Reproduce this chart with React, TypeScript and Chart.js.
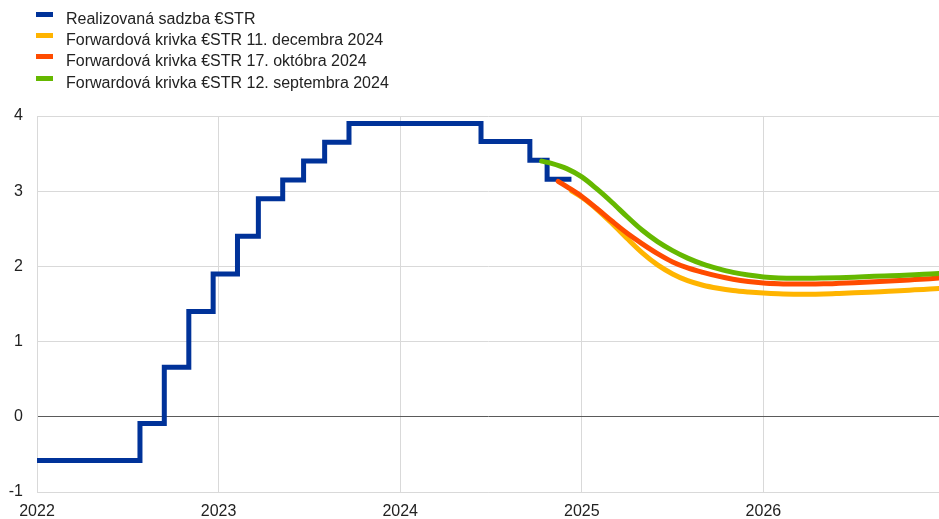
import React, { useEffect, useRef } from "react";
import { Chart, registerables } from "chart.js";

Chart.register(...registerables);

// Realized €STR: step change dates (decimal years) and levels
const realizedDates = [
  2022.0, 2022.567, 2022.701, 2022.836, 2022.97, 2023.104, 2023.219, 2023.353,
  2023.468, 2023.584, 2023.718, 2024.445, 2024.714, 2024.809, 2024.943,
];
const realizedValues = [
  -0.58, -0.09, 0.66, 1.4, 1.9, 2.4, 2.9, 3.15, 3.4, 3.65, 3.9, 3.66, 3.41, 3.16, 3.16,
];

// Forward curve 11 Dec 2024
const decDates = [
  2024.945, 2025.0, 2025.083, 2025.167, 2025.25, 2025.333, 2025.417, 2025.5, 2025.583,
  2025.667, 2025.75, 2025.833, 2025.917, 2026.0, 2026.083, 2026.167, 2026.25, 2026.333,
  2026.417, 2026.5, 2026.583, 2026.667, 2026.75, 2026.833, 2026.917, 2027.0,
];
const decValues = [
  3.0, 2.92, 2.76, 2.57, 2.37, 2.18, 2.02, 1.9, 1.81, 1.75, 1.71, 1.68, 1.66, 1.645,
  1.635, 1.63, 1.63, 1.633, 1.64, 1.648, 1.657, 1.667, 1.677, 1.688, 1.699, 1.71,
];

// Forward curve 17 Oct 2024
const octDates = [
  2024.87, 2024.917, 2025.0, 2025.083, 2025.167, 2025.25, 2025.333, 2025.417, 2025.5,
  2025.583, 2025.667, 2025.75, 2025.833, 2025.917, 2026.0, 2026.083, 2026.167, 2026.25,
  2026.333, 2026.417, 2026.5, 2026.583, 2026.667, 2026.75, 2026.833, 2026.917, 2027.0,
];
const octValues = [
  3.13, 3.06, 2.93, 2.77, 2.6, 2.44, 2.3, 2.17, 2.06, 1.98, 1.92, 1.87, 1.83, 1.8,
  1.78, 1.77, 1.765, 1.765, 1.768, 1.775, 1.783, 1.792, 1.802, 1.813, 1.825, 1.837, 1.85,
];

// Forward curve 12 Sep 2024
const sepDates = [
  2024.779, 2024.833, 2024.917, 2025.0, 2025.083, 2025.167, 2025.25, 2025.333, 2025.417,
  2025.5, 2025.583, 2025.667, 2025.75, 2025.833, 2025.917, 2026.0, 2026.083, 2026.167,
  2026.25, 2026.333, 2026.417, 2026.5, 2026.583, 2026.667, 2026.75, 2026.833, 2026.917,
  2027.0,
];
const sepValues = [
  3.4, 3.37, 3.3, 3.19, 3.03, 2.85, 2.66, 2.48, 2.33, 2.21, 2.11, 2.03, 1.97, 1.92, 1.885,
  1.86, 1.847, 1.842, 1.842, 1.845, 1.85, 1.857, 1.865, 1.873, 1.88, 1.89, 1.9, 1.91,
];

const seriesLabels = [
  "Realizovaná sadzba €STR",
  "Forwardová krivka €STR 11. decembra 2024",
  "Forwardová krivka €STR 17. októbra 2024",
  "Forwardová krivka €STR 12. septembra 2024",
];
const seriesColors = ["#003299", "#ffb400", "#ff4b00", "#65b800"];

const xMin = 2022;
const xMax = 2026.967;
const yMin = -1;
const yMax = 4;

const FONT = "'Liberation Sans', Arial, Helvetica, sans-serif";

const toXY = (xs: number[], ys: number[]) => xs.map((x, i) => ({ x, y: ys[i] }));

export default function App() {
  const canvasRef = useRef<HTMLCanvasElement | null>(null);

  useEffect(() => {
    if (!canvasRef.current) return;
    const curve = (i: number, xs: number[], ys: number[], order: number) => ({
      label: seriesLabels[i],
      data: toXY(xs, ys),
      borderColor: seriesColors[i],
      backgroundColor: seriesColors[i],
      borderWidth: 5,
      pointRadius: 0,
      cubicInterpolationMode: "monotone",
      borderCapStyle: "round",
      order,
    });
    const chart = new Chart(canvasRef.current, {
      type: "line",
      data: {
        datasets: [
          {
            label: seriesLabels[0],
            data: toXY(realizedDates, realizedValues),
            borderColor: seriesColors[0],
            backgroundColor: seriesColors[0],
            borderWidth: 5,
            stepped: "before",
            pointRadius: 0,
            borderJoinStyle: "miter",
            order: 3,
          },
          curve(1, decDates, decValues, 2),
          curve(2, octDates, octValues, 1),
          curve(3, sepDates, sepValues, 0),
        ],
      },
      options: {
        animation: false,
        responsive: false,
        parsing: false,
        layout: { padding: { top: 116, left: 0, right: 0, bottom: 0 } },
        plugins: {
          legend: { display: false },
          tooltip: { enabled: false },
        },
        scales: {
          x: {
            type: "linear",
            min: xMin,
            max: xMax,
            afterBuildTicks: (s: any) => {
              s.ticks = s.ticks.filter((t: any) => Number.isInteger(t.value));
            },
            ticks: {
              stepSize: 1,
              autoSkip: false,
              maxRotation: 0,
              padding: 10,
              color: "#222",
              font: { family: FONT, size: 16 },
              callback: (v: any) => String(v),
            },
            grid: { color: "#d9d9d9", drawTicks: false, lineWidth: 1 },
            border: { display: true, color: "#d9d9d9" },
            afterFit: (s: any) => {
              s.height = 27;
            },
          },
          y: {
            type: "linear",
            min: yMin,
            max: yMax,
            ticks: {
              stepSize: 1,
              padding: 14,
              color: "#222",
              font: { family: FONT, size: 16 },
              callback: (v: any) => String(v),
            },
            grid: {
              drawTicks: false,
              color: (ctx: any) => (ctx.tick && ctx.tick.value === 0 ? "#5a5a5a" : "#d9d9d9"),
              lineWidth: 1,
            },
            border: { display: true, color: "#d9d9d9" },
            afterFit: (s: any) => {
              s.width = 37;
            },
          },
        },
      },
    } as any);
    return () => chart.destroy();
  }, []);

  return (
    <div
      style={{
        position: "fixed",
        left: 0,
        top: 0,
        width: 939,
        height: 519,
        background: "#fff",
        fontFamily: FONT,
      }}
    >
      <canvas ref={canvasRef} width={939} height={519} style={{ display: "block" }} />
      <div style={{ position: "absolute", left: 36, top: 8 }}>
        {seriesLabels.map((label, i) => (
          <div
            key={label}
            style={{
              position: "relative",
              height: 21.2,
              lineHeight: "21.2px",
              fontSize: 16,
              color: "#222",
              whiteSpace: "nowrap",
            }}
          >
            <span
              style={{
                position: "absolute",
                left: 0,
                top: 4,
                width: 17,
                height: 5,
                background: seriesColors[i],
              }}
            />
            <span style={{ position: "absolute", left: 30, top: 0 }}>{label}</span>
          </div>
        ))}
      </div>
    </div>
  );
}
